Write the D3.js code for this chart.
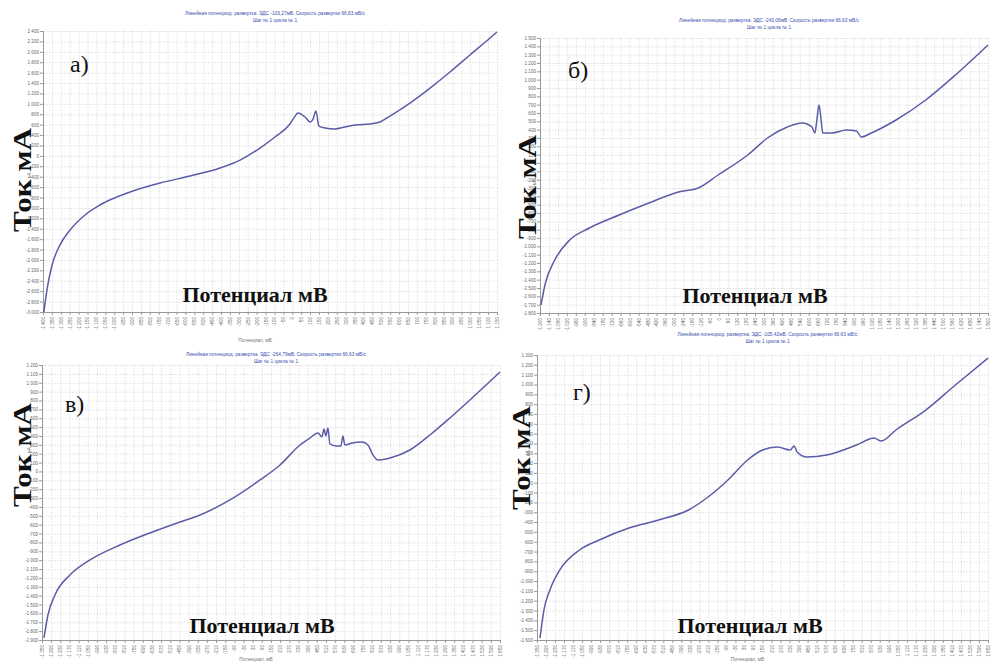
<!DOCTYPE html>
<html><head><meta charset="utf-8">
<script src="https://cdn.jsdelivr.net/npm/d3@7"></script>
<style>body{margin:0;background:#fff}svg{display:block}</style></head>
<body><svg id="c" width="993" height="665"></svg>
<script>
// ---------- data ----------
const panelLabels = ["а)", "б)", "в)", "г)"];
const titleLine1 = [
  "Линейная потенциод. развертка.  ЭДС -103,27мВ. Скорость развертки 66,63 мВ/с",
  "Линейная потенциод. развертка.  ЭДС -243,06мВ. Скорость развертки 66,63 мВ/с",
  "Линейная потенциод. развертка.  ЭДС -264,79мВ. Скорость развертки 66,63 мВ/с",
  "Линейная потенциод. развертка.  ЭДС -105,42мВ. Скорость развертки 66,63 мВ/с"
];
const titleLine2 = "Шаг № 1 цикла № 1";
const xAxisTitle = "Потенциал мВ";
const yAxisTitle = "Ток мА";
const xSmallTitle = "Потенциал, мВ";
const ySmallTitle = "Ток, мА";

const yDomains = [[-3000, 2400], [-1800, 1500], [-1900, 1200], [-1600, 1300]];
const yTickStep = [200, 100, 100, 100];
const xDomains = [[-1400, 1150], [-1200, 1800], [-1350, 1650], [-1350, 1650]];
const xTickStep = [50, 60, 60, 60];

// [potential mV, current mA]
const curveA = [[-1395,-3000],[-1378,-2578],[-1349,-2097],[-1305,-1714],[-1248,-1425],[-1164,-1136],[-1080,-944],[-911,-694],[-743,-521],[-574,-387],[-406,-233],[-293,-80],[-181,151],[-97,363],[-13,612],[15,760],[32,824],[72,747],[100,651],[116,700],[133,862],[150,574],[184,536],[240,516],[296,555],[353,593],[437,612],[493,651],[549,766],[661,1016],[774,1304],[886,1612],[998,1939],[1111,2265],[1150,2381]];
const curveB = [[-1193,-1704],[-1167,-1464],[-1101,-1164],[-1001,-924],[-869,-780],[-670,-624],[-471,-480],[-273,-348],[-140,-300],[-8,-144],[191,96],[323,300],[456,432],[555,480],[621,432],[641,360],[654,516],[668,696],[681,540],[694,360],[754,360],[853,396],[919,384],[952,312],[1019,360],[1184,516],[1383,756],[1582,1056],[1800,1416]];
const curveC = [[-1337,-1877],[-1311,-1618],[-1265,-1392],[-1167,-1167],[-1036,-998],[-839,-829],[-643,-693],[-446,-569],[-315,-491],[-119,-321],[78,-96],[209,73],[340,298],[405,377],[458,434],[484,389],[497,479],[510,400],[523,490],[536,310],[576,287],[608,287],[621,400],[634,298],[681,321],[746,332],[785,298],[818,186],[851,129],[929,152],[1060,242],[1191,411],[1322,603],[1453,806],[1650,1121]];
const curveD = [[-1330,-1580],[-1304,-1295],[-1264,-1091],[-1199,-888],[-1067,-684],[-936,-582],[-738,-460],[-541,-379],[-343,-277],[-212,-145],[-80,28],[51,232],[150,333],[249,364],[334,333],[361,374],[380,313],[446,262],[578,283],[775,384],[893,455],[940,425],[1038,537],[1236,740],[1433,995],[1650,1269]];
const curves = [curveA, curveB, curveC, curveD];

// ---------- layout ----------
const boxes = [
  {l: 43, r: 497, t: 31, b: 312, ty: 15, lab: [70, 72], xt: [255, 302], yt: [22, 180], xs: 342},
  {l: 540, r: 988, t: 38, b: 313, ty: 22, lab: [568, 78], xt: [755, 303], yt: [527, 187], xs: null},
  {l: 42, r: 500, t: 365, b: 640, ty: 356, lab: [65, 412], xt: [262, 633], yt: [22, 455], xs: 661},
  {l: 537, r: 988, t: 355, b: 640, ty: 336, lab: [573, 400], xt: [750, 633], yt: [521, 458], xs: 661}
];

const svg = d3.select("#c");
const fmt = v => d3.format(",")(v).replace(/,/g, " ").replace("−", "-");

boxes.forEach((bx, i) => {
  const x = d3.scaleLinear().domain(xDomains[i]).range([bx.l, bx.r]);
  const y = d3.scaleLinear().domain(yDomains[i]).range([bx.b, bx.t]);
  const xt = d3.range(xDomains[i][0], xDomains[i][1] + 1, xTickStep[i]);
  const yt = d3.range(yDomains[i][0], yDomains[i][1] + 1, yTickStep[i]);
  const g = svg.append("g");

  // grid
  g.append("g").attr("transform", `translate(0,${bx.b})`)
    .call(d3.axisBottom(x).tickValues(xt).tickSize(-(bx.b - bx.t)).tickFormat(""))
    .call(s => { s.select(".domain").remove(); s.selectAll("line").attr("stroke", "#d6d6d6").attr("stroke-width", 0.6).attr("stroke-dasharray", "2,1"); });
  g.append("g").attr("transform", `translate(${bx.l},0)`)
    .call(d3.axisLeft(y).tickValues(yt).tickSize(-(bx.r - bx.l)).tickFormat(""))
    .call(s => { s.select(".domain").remove(); s.selectAll("line").attr("stroke", "#d6d6d6").attr("stroke-width", 0.6).attr("stroke-dasharray", "2,1"); });

  // axes with labels
  g.append("g").attr("transform", `translate(${bx.l},0)`)
    .call(d3.axisLeft(y).tickValues(yt).tickSize(3).tickPadding(1).tickFormat(fmt))
    .call(s => {
      s.select(".domain").attr("stroke", "#999");
      s.selectAll("line").attr("stroke", "#999");
      s.selectAll("text").attr("font-size", 4.6).attr("fill", "#666").attr("font-family", "Arial, sans-serif");
    });
  g.append("g").attr("transform", `translate(0,${bx.b})`)
    .call(d3.axisBottom(x).tickValues(xt).tickSize(3).tickFormat(fmt))
    .call(s => {
      s.select(".domain").attr("stroke", "#999");
      s.selectAll("line").attr("stroke", "#999");
      s.selectAll("text").attr("font-size", 4.6).attr("fill", "#666").attr("font-family", "Arial, sans-serif")
        .attr("transform", "rotate(-90)").attr("text-anchor", "end").attr("dy", "0.32em").attr("x", -5).attr("y", 0);
    });

  // curve
  g.append("path").datum(curves[i])
    .attr("fill", "none").attr("stroke", "#5b5ca8").attr("stroke-width", 1.5)
    .attr("d", d3.line().x(d => x(d[0])).y(d => y(d[1])).curve(d3.curveMonotoneX));

  // small titles
  const cx = (bx.l + bx.r) / 2 + 5;
  g.append("text").attr("x", cx).attr("y", bx.ty).attr("text-anchor", "middle")
    .attr("font-size", 4.8).attr("fill", "#3a4fb0").attr("font-family", "Arial, sans-serif").text(titleLine1[i]);
  g.append("text").attr("x", cx).attr("y", bx.ty + 7).attr("text-anchor", "middle")
    .attr("font-size", 4.8).attr("fill", "#3a4fb0").attr("font-family", "Arial, sans-serif").text(titleLine2);
  if (bx.xs) {
    g.append("text").attr("x", cx - 20).attr("y", bx.xs).attr("text-anchor", "middle")
      .attr("font-size", 4.8).attr("fill", "#777").attr("font-family", "Arial, sans-serif").text(xSmallTitle);
  }

  // big overlay labels
  g.append("text").attr("x", bx.lab[0]).attr("y", bx.lab[1])
    .attr("font-size", 24).attr("font-family", "'Liberation Serif', 'DejaVu Serif', serif").attr("fill", "#111").text(panelLabels[i]);
  g.append("text").attr("x", bx.xt[0]).attr("y", bx.xt[1]).attr("text-anchor", "middle")
    .attr("font-size", 22).attr("font-weight", "bold").attr("font-family", "'Liberation Serif', serif").attr("fill", "#111").text(xAxisTitle);
  g.append("text").attr("transform", `translate(${bx.yt[0] + 9},${bx.yt[1]}) rotate(-90)`).attr("text-anchor", "middle")
    .attr("font-size", 4.6).attr("fill", "#777").attr("font-family", "Arial, sans-serif").text(ySmallTitle);
  g.append("text").attr("transform", `translate(${bx.yt[0]},${bx.yt[1]}) rotate(-90)`).attr("text-anchor", "middle")
    .attr("dy", "0.35em").attr("textLength", 104).attr("lengthAdjust", "spacingAndGlyphs")
    .attr("font-size", 26).attr("font-weight", "bold").attr("font-family", "'Liberation Serif', serif").attr("fill", "#111").text(yAxisTitle);
});
</script></body></html>
